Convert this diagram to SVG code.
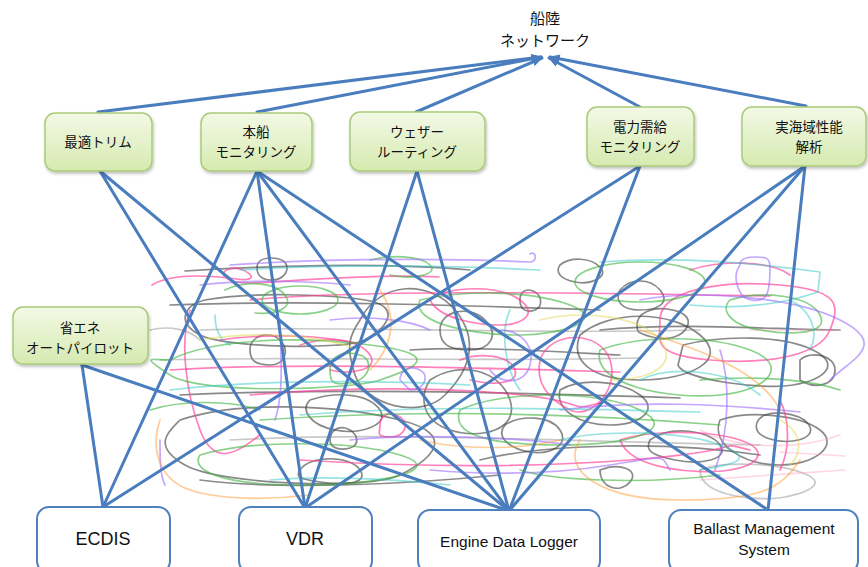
<svg xmlns="http://www.w3.org/2000/svg" width="868" height="567" viewBox="0 0 868 567">
<defs>
<linearGradient id="gg" x1="0" y1="0" x2="0" y2="1">
<stop offset="0" stop-color="#f3f9e6"/>
<stop offset="1" stop-color="#d6eab0"/>
</linearGradient>
<filter id="sh" x="-10%" y="-10%" width="130%" height="140%">
<feDropShadow dx="1" dy="2" stdDeviation="1.5" flood-color="#000" flood-opacity="0.25"/>
</filter>
<marker id="ah" viewBox="0 0 10 8" refX="9" refY="4" markerWidth="11" markerHeight="9" markerUnits="userSpaceOnUse" orient="auto">
<path d="M0,0 L10,4 L0,8 z" fill="#4a7dbe"/>
</marker>
</defs>
<style>
.jp{font-family:"Noto Sans CJK JP","Noto Sans",sans-serif;fill:#111;text-anchor:middle}
.en{font-family:"Liberation Sans","Open Sans",sans-serif;fill:#111;text-anchor:middle}
.gb{fill:url(#gg);stroke:#a9cb78;stroke-width:1.5;filter:url(#sh)}
.wb{fill:#fff;stroke:#4f81bd;stroke-width:2}
.cn{stroke:#4a7dbe;stroke-width:3;fill:none;stroke-linecap:round}
.s{fill:none;stroke-width:1.7;stroke-linecap:round;stroke-linejoin:round}
.k{stroke:#3a3a3a;opacity:.6}
.k2{stroke:#777;opacity:.4}
.p{stroke:#ff3c96;opacity:.65}
.g{stroke:#3cb43c;opacity:.6}
.v{stroke:#9c6cff;opacity:.6}
.c{stroke:#32c8c8;opacity:.5}
.o{stroke:#ff9a30;opacity:.5}
.y{stroke:#e0d84a;opacity:.5}
.lp{stroke:#ff9cc0;opacity:.4}
</style>

<g id="scribbles">
<path class="s k" d="M257 268 c0-8 6-10 15-10 s15 4 15 10 -6 12 -15 12 -15-4-15-12z"/>
<path class="s k" d="M185 271 C260 266 380 262 470 270"/>
<path class="s k" d="M205 300 c40-8 120-6 160 0 s20 30 0 40 -140 8 -165-5 -15-30 5-35z"/>
<path class="s k" d="M360 320 c20-40 70-40 95-10 s15 60 -10 85 -80 10 -90-20 -5-40 5-55z"/>
<path class="s k" d="M430 380 c30-20 70-10 80 20 s-30 40 -60 30 -30-35 -20-50z"/>
<path class="s k" d="M180 420 c60-20 160-15 220 0 s30 40 0 55 -180 10 -215-10 -15-35 -5-45z"/>
<path class="s k" d="M330 440 c0-12 12-15 20-10 s10 15 0 18 -20 0-20-8z"/>
<path class="s k" d="M520 300 c0-10 8-12 15-8 s8 15 0 18 -15 0 -15-10z"/>
<path class="s k" d="M637 325 c0-12 15-18 30-16 s25 8 20 18 -20 14 -35 10 -15-5-15-12z"/>
<path class="s k" d="M683 345 c40-10 100-10 130 5 s10 30 -20 35 -110-5 -115-20z"/>
<path class="s k" d="M560 390 c20-12 60-10 80 5 s0 30 -30 30 -55-15 -50-35z"/>
<path class="s k" d="M720 420 c30-10 80-5 100 10 s-5 35 -40 35 -70-20 -60-45z"/>
<path class="s k" d="M480 460 c60-15 180-20 280-5"/>
<path class="s k" d="M200 480 c80 10 200 5 300-5"/>
<path class="s k" d="M600 470 c20-8 40 0 30 12 s-30 6 -30-12z"/>
<path class="s k" d="M250 350 c0-15 20-20 30-10 s5 25 -10 25 -20-5 -20-15z"/>
<path class="s k" d="M580 335 c30-25 90-25 120 0 s-10 45 -60 45 -70-20 -60-45z"/>
<path class="s k" d="M765 415 c15-5 40 0 45 12 s-20 18 -40 12 -15-20 -5-24z"/>
<path class="s k2" d="M700 470 c20-8 70-8 100 2 s10 20 -15 25 -85 0 -85-27z"/>
<path class="s k" d="M410 350 C480 346 560 352 620 355"/>
<path class="s k" d="M600 330 C680 322 780 330 840 330"/>
<path class="s k" d="M310 400 c30-10 60-5 70 10 s-20 25 -45 20 -35-20 -25-30z"/>
<path class="s k" d="M505 425 c15-10 45-10 55 5 s-10 25 -30 22 -35-15 -25-27z"/>
<path class="s k2" d="M150 330 c20-5 40 0 50 10"/>
<path class="s k" d="M620 290 c10-12 30-12 40 0 s0 20 -20 20 -25-10 -20-20z"/>
<path class="s k" d="M170 305 C300 300 450 305 600 310"/>
<path class="s k2" d="M200 330 C350 325 500 335 700 330"/>
<path class="s k" d="M180 395 C330 388 500 392 680 398"/>
<path class="s k2" d="M230 440 C380 432 520 440 760 445"/>
<path class="s k2" d="M160 360 C300 356 450 362 640 358"/>
<path class="s k" d="M440 330 c0-20 30-25 45-10 s5 30 -15 30 -30-5 -30-20z"/>
<path class="s k" d="M300 470 c10-15 50-15 60 0 s-20 15 -40 12 -25-5 -20-12z"/>
<path class="s k" d="M800 360 c10-10 35-5 35 10 s-20 20 -35 10z"/>
<path class="s k" d="M650 440 c20-15 60-10 70 5 s-20 20 -45 15 -30-10 -25-20z"/>
<path class="s k" d="M560 265 c10-8 30-8 40 2 s-10 18 -25 15 -20-10 -15-17z"/>

<path class="s p" d="M152 285 c20-12 55-10 85-6 s5-15 -8-10 -2 14 20 14 s120-10 190-6"/>
<path class="s p" d="M190 310 c-10 30 -5 80 10 120 s40 20 60 5"/>
<path class="s p" d="M250 395 c60-5 150-10 250-2 s60 20 100 10"/>
<path class="s p" d="M430 300 c20-15 70-15 90 0 s0 25 -20 25 -60-5 -70-25z"/>
<path class="s p" d="M660 320 c0-30 60-40 120-35 s60 20 50 45 -60 35 -120 30 -50-20 -50-40z"/>
<path class="s p" d="M300 460 c80 5 200 10 330 0 s80-20 120-10"/>
<path class="s p" d="M540 360 c10-30 60-30 70 0 s-20 60 -40 50 -35-25 -30-50z"/>
<path class="s p" d="M620 440 c30-10 90-10 120 0 s20 25 -10 30 -100 0 -110-30z"/>
<path class="s p" d="M780 400 c10 20 10 50 0 70"/>
<path class="s p" d="M250 300 C350 290 550 292 770 296"/>
<path class="s p" d="M380 425 c0-10 10-15 20-8 s5 20 -10 20 -10-5 -10-12z"/>
<path class="s p" d="M220 340 c40-6 100-6 140 4"/>
<path class="s p" d="M170 370 C300 362 480 368 620 372"/>
<path class="s p" d="M300 345 c30-10 60-5 70 10 s-20 20 -40 15"/>
<path class="s p" d="M460 360 c20-8 50-5 55 10 s-25 15 -45 10"/>
<path class="s p" d="M690 270 c30-10 80-10 100 5"/>
<path class="s lp" d="M700 430 c40 20 100 20 140 5"/>
<path class="s lp" d="M750 330 L840 330"/>
<path class="s lp" d="M780 452 L845 456"/>
<path class="s lp" d="M700 480 L845 470"/>

<ellipse class="s g" cx="300" cy="300" rx="38" ry="14"/>
<path class="s g" d="M170 360 c40-20 120-25 200-15 s40 25 10 35 -180 15 -210-5 -20-15 0-15z"/>
<path class="s g" d="M420 300 c40-10 110-10 150 5 s-10 30 -50 30 -110-10 -100-35z"/>
<ellipse class="s g" cx="640" cy="282" rx="65" ry="20"/>
<path class="s g" d="M460 410 c40-20 140-20 180 0 s-10 35 -80 35 -110-10 -100-35z"/>
<path class="s g" d="M600 350 c40-15 110-15 150 0 s20 40 -30 45 -130-10 -120-45z"/>
<path class="s g" d="M200 455 c50-15 150-15 200 0 s-20 30 -100 30 -110-15 -100-30z"/>
<path class="s g" d="M730 300 c30-10 80-5 90 15 s-30 20 -60 15 -40-20 -30-30z"/>
<path class="s g" d="M330 370 c0-15 15-20 30-15 s10 25 -10 28 -20-3 -20-13z"/>
<path class="s g" d="M520 470 c30 10 120 15 200 5"/>
<path class="s g" d="M225 290 c20-10 50-8 60 5 s-10 20 -30 18"/>
<path class="s g" d="M260 420 C400 410 560 412 720 425"/>
<path class="s g" d="M150 410 c30-10 80-10 110 0"/>
<path class="s g" d="M370 260 c20-5 50-5 60 5 s-20 15 -40 10"/>
<path class="s g" d="M700 380 C760 375 810 380 840 390"/>

<path class="s v" d="M230 265 C360 256 490 260 530 262 c8 0 6-12 0-8"/>
<path class="s v" d="M740 265 c0-6 5-8 15-8 s15 0 15 10 0 25 -5 30 -20 5 -25-5 -5-20 0-27z"/>
<path class="s v" d="M280 320 c0 30 5 70 -5 100"/>
<path class="s v" d="M640 300 c50-10 150-5 200 20 s10 40 -10 60"/>
<path class="s v" d="M350 440 c50-5 150-5 220 5"/>
<path class="s v" d="M160 440 c0 20 0 35 5 45"/>
<path class="s v" d="M500 330 c20 0 35 15 30 35 s-30 20 -40 5"/>
<path class="s v" d="M720 350 c10 30 10 80 -5 120"/>
<path class="s v" d="M430 470 c60 5 120 5 180-5 s50-10 60 5"/>
<path class="s v" d="M330 320 c40-5 80 0 100 10"/>
<path class="s v" d="M200 285 c40-5 100-5 150 0"/>
<path class="s v" d="M560 410 C640 400 720 404 800 412"/>
<path class="s v" d="M400 380 c0-10 10-15 20-10 s5 20 -10 20z"/>

<path class="s c" d="M240 270 C340 264 440 265 540 270"/>
<path class="s c" d="M600 262 Q700 255 820 272 L818 292 Q760 312 690 305"/>
<path class="s c" d="M170 390 c80-10 200-10 300-5"/>
<path class="s c" d="M510 310 c-10 20 -5 60 10 80"/>
<path class="s c" d="M560 440 c40-10 120-10 160 5 s10 20 -20 25"/>
<path class="s c" d="M270 480 c60-5 130 0 180 5"/>
<path class="s c" d="M640 380 c30-15 90-10 120 15"/>
<path class="s c" d="M215 315 c0 15 5 25 15 30"/>
<path class="s c" d="M300 415 C420 405 560 408 700 412"/>
<path class="s c" d="M790 300 c20 10 30 30 20 50"/>

<path class="s o" d="M160 420 c-10 30 0 60 30 70 s80 10 120 5"/>
<path class="s o" d="M580 440 c-20 30 20 60 100 60 s100-10 120-40"/>
<path class="s o" d="M640 330 c60 20 120 40 140 80"/>
<path class="s o" d="M380 290 c20 30 10 60 -10 80"/>
<path class="s o" d="M420 440 c40 10 100 10 140 0"/>

<path class="s y" d="M540 320 c40-10 100-5 120 20 s-10 40 -50 40"/>
<path class="s y" d="M200 340 c60-10 120-5 160 10"/>
<path class="s y" d="M780 420 c20 10 25 30 10 45"/>
</g>

<g id="connectors">
<line class="cn" x1="98" y1="112" x2="541" y2="57" marker-end="url(#ah)"/>
<line class="cn" x1="257" y1="112" x2="541" y2="57" marker-end="url(#ah)"/>
<line class="cn" x1="416" y1="112" x2="542" y2="58" marker-end="url(#ah)"/>
<line class="cn" x1="640" y1="107" x2="549" y2="58" marker-end="url(#ah)"/>
<line class="cn" x1="806" y1="106" x2="550" y2="57" marker-end="url(#ah)"/>

<line class="cn" x1="100" y1="171" x2="305" y2="508"/>
<line class="cn" x1="100" y1="171" x2="509" y2="511"/>
<line class="cn" x1="257" y1="171" x2="103" y2="507"/>
<line class="cn" x1="257" y1="171" x2="305" y2="508"/>
<line class="cn" x1="257" y1="171" x2="509" y2="511"/>
<line class="cn" x1="257" y1="171" x2="768" y2="510"/>
<line class="cn" x1="417" y1="171" x2="305" y2="508"/>
<line class="cn" x1="417" y1="171" x2="509" y2="511"/>
<line class="cn" x1="640" y1="166" x2="103" y2="507"/>
<line class="cn" x1="640" y1="166" x2="509" y2="511"/>
<line class="cn" x1="805" y1="166" x2="305" y2="508"/>
<line class="cn" x1="805" y1="166" x2="509" y2="511"/>
<line class="cn" x1="805" y1="166" x2="768" y2="510"/>
<line class="cn" x1="82" y1="365" x2="103" y2="507"/>
<line class="cn" x1="82" y1="365" x2="509" y2="511"/>
</g>

<g id="network">
<text class="jp" x="545" y="24" font-size="15">船陸</text>
<text class="jp" x="545" y="46" font-size="15">ネットワーク</text>
</g>

<g id="saiteki-trim">
<rect class="gb" x="45" y="113" width="107" height="58" rx="10"/>
<text class="jp" x="98" y="147" font-size="13.5">最適トリム</text>
</g>
<g id="honsen-monitoring">
<rect class="gb" x="201" y="113" width="111" height="58" rx="10"/>
<text class="jp" x="256" y="137" font-size="13.5">本船</text>
<text class="jp" x="256" y="157" font-size="13.5">モニタリング</text>
</g>
<g id="weather-routing">
<rect class="gb" x="350" y="112" width="135" height="59" rx="10"/>
<text class="jp" x="417" y="137" font-size="13.5">ウェザー</text>
<text class="jp" x="417" y="157" font-size="13.5">ルーティング</text>
</g>
<g id="denryoku-monitoring">
<rect class="gb" x="587" y="107" width="107" height="59" rx="10"/>
<text class="jp" x="640" y="132" font-size="13.5">電力需給</text>
<text class="jp" x="640" y="152" font-size="13.5">モニタリング</text>
</g>
<g id="jikaiiki">
<rect class="gb" x="742" y="107" width="124" height="59" rx="10"/>
<text class="jp" x="809" y="132" font-size="13.5">実海域性能</text>
<text class="jp" x="809" y="152" font-size="13.5">解析</text>
</g>
<g id="shoene-autopilot">
<rect class="gb" x="13" y="307" width="135" height="57" rx="10"/>
<text class="jp" x="80" y="333" font-size="13.5">省エネ</text>
<text class="jp" x="80" y="353" font-size="13.5">オートパイロット</text>
</g>

<g id="ecdis">
<rect class="wb" x="37" y="507" width="133" height="66" rx="12"/>
<text class="en" x="103" y="545" font-size="18">ECDIS</text>
</g>
<g id="vdr">
<rect class="wb" x="239" y="507" width="133" height="66" rx="12"/>
<text class="en" x="305" y="545" font-size="18">VDR</text>
</g>
<g id="engine-data-logger">
<rect class="wb" x="418" y="510" width="182" height="63" rx="12"/>
<text class="en" x="509" y="547" font-size="15.5">Engine Data Logger</text>
</g>
<g id="ballast">
<rect class="wb" x="669" y="510" width="189" height="63" rx="12"/>
<text class="en" x="764" y="534" font-size="15.5">Ballast Management</text>
<text class="en" x="764" y="555" font-size="15.5">System</text>
</g>
</svg>
